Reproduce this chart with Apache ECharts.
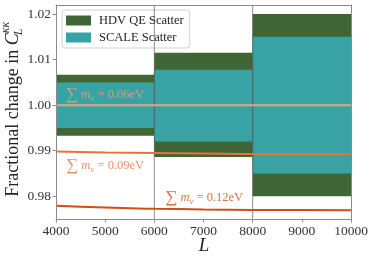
<!DOCTYPE html>
<html>
<head>
<meta charset="utf-8">
<script src="https://cdn.jsdelivr.net/npm/echarts@6/dist/echarts.min.js"></script>
<style>html,body{margin:0;padding:0;background:#fff}#c{width:374px;height:263px}</style>
</head>
<body>
<div id="c"></div>
<script>
// ---- data ----
const binStart = [4000, 6000, 8000];
const binEnd = [6000, 8000, 10000];
const hdvLow = [0.9933, 0.9886, 0.9800];
const hdvHigh = [1.0067, 1.0115, 1.0200];
const scaleLow = [0.9950, 0.9920, 0.9850];
const scaleHigh = [1.0050, 1.0078, 1.0150];
const lineL = [4000, 5000, 6000, 7000, 8000, 9000, 10000];
const mnu006 = [1.0000, 1.0000, 1.0000, 1.0000, 1.0000, 1.0000, 1.0000];
const mnu009 = [0.9898, 0.9896, 0.9895, 0.9894, 0.9893, 0.9893, 0.9893];
const mnu012 = [0.9779, 0.9775, 0.97727, 0.9771, 0.9770, 0.97695, 0.97692];
const binEdges = [6000, 8000];
const xTicks = [4000, 5000, 6000, 7000, 8000, 9000, 10000];
const yTicks = [0.98, 0.99, 1.00, 1.01, 1.02];
const legendNames = ['HDV QE Scatter', 'SCALE Scatter'];
const lineLabels = ['0.06eV', '0.09eV', '0.12eV'];

const FONT = 'Liberation Serif';
const cGreen = '#3f6634';
const cTeal = '#38a3a4';
const c06 = '#f2a07b', c09 = '#e8733a', c12 = '#d24e10';

const chart = echarts.init(document.getElementById('c'), null, {renderer: 'canvas'});

function rectSeries(name, lo, hi, color, z) {
  return {
    type: 'custom', name: name, z: z,
    itemStyle: {color: color},
    encode: {x: [0, 1], y: [2, 3]},
    data: binStart.map((s, i) => [s, binEnd[i], lo[i], hi[i]]),
    renderItem: function (params, api) {
      const p0 = api.coord([api.value(0), api.value(3)]);
      const p1 = api.coord([api.value(1), api.value(2)]);
      return {type: 'rect', shape: {x: p0[0], y: p0[1], width: p1[0] - p0[0], height: p1[1] - p0[1]},
        style: {fill: color}};
    }
  };
}
function lineSeries(name, ys, color) {
  return {type: 'line', name: name, data: lineL.map((x, i) => [x, ys[i]]), smooth: true,
    showSymbol: false, symbol: 'none', lineStyle: {color: color, width: 2}, z: 5, silent: true};
}

const spine = {show: true, lineStyle: {color: '#8a8a8a', width: 1}};
const tickSt = {show: true, length: 3.5, inside: false, lineStyle: {color: '#8a8a8a'}};

chart.setOption({
  animation: false,
  grid: {left: 56, right: 23, top: 5, bottom: 44},
  legend: {
    data: legendNames, orient: 'vertical', left: 62, top: 10,
    icon: 'rect', itemWidth: 25, itemHeight: 10, itemGap: 4,
    padding: [4, 6, 4, 4], backgroundColor: 'rgba(255,255,255,0.85)',
    borderColor: '#d0d0d0', borderWidth: 1, borderRadius: 3,
    textStyle: {fontFamily: FONT, fontSize: 12.5, color: '#222', padding: [0, 0, 0, 3]},
    selectedMode: false
  },
  xAxis: [{
    type: 'value', min: 4000, max: 10000, interval: 1000, z: 10,
    axisLine: spine, axisTick: tickSt, splitLine: {show: false},
    axisLabel: {fontFamily: FONT, fontSize: 13.5, color: '#333', margin: 5, formatter: v => String(v)}
  }, {
    type: 'value', position: 'top', min: 4000, max: 10000, z: 10,
    axisLine: spine, axisTick: {show: false}, axisLabel: {show: false}, splitLine: {show: false}
  }],
  yAxis: [{
    type: 'value', min: 0.975, max: 1.022, z: 10,
    axisLine: spine,
    axisTick: Object.assign({customValues: yTicks}, tickSt),
    splitLine: {show: false},
    axisLabel: {customValues: yTicks, fontFamily: FONT, fontSize: 13.5, color: '#333', margin: 5,
      formatter: v => v.toFixed(2)}
  }, {
    type: 'value', position: 'right', min: 0.975, max: 1.022, z: 10,
    axisLine: spine, axisTick: {show: false}, axisLabel: {show: false}, splitLine: {show: false}
  }],
  series: [
    rectSeries(legendNames[0], hdvLow, hdvHigh, cGreen, 2),
    rectSeries(legendNames[1], scaleLow, scaleHigh, cTeal, 3),
    {
      type: 'custom', name: 'edges', z: 4, silent: true,
      encode: {x: 0},
      data: binEdges.map(e => [e]),
      renderItem: function (params, api) {
        const a = api.coord([api.value(0), 0.975]);
        const b = api.coord([api.value(0), 1.022]);
        return {type: 'line', shape: {x1: a[0], y1: a[1], x2: b[0], y2: b[1]},
          style: {stroke: 'rgba(70,70,70,0.6)', lineWidth: 1}};
      }
    },
    lineSeries('m006', mnu006, c06),
    lineSeries('m009', mnu009, c09),
    lineSeries('m012', mnu012, c12)
  ]
});

// annotations and axis titles
function label(txt, xv, yv, color) {
  const p = chart.convertToPixel({xAxisIndex: 0, yAxisIndex: 0}, [xv, yv]);
  return {
    type: 'text', x: p[0], y: p[1], z: 20,
    style: {
      text: '{s|∑}{i| m}{sub|ν} = ' + txt,
      align: 'center', verticalAlign: 'middle', fill: color, opacity: 0.8,
      rich: {
        s: {fontFamily: FONT, fontSize: 17, fill: color, lineHeight: 16},
        i: {fontFamily: FONT, fontStyle: 'italic', fontSize: 12.5, fill: color, lineHeight: 16},
        sub: {fontFamily: FONT, fontStyle: 'italic', fontSize: 9, fill: color, lineHeight: 11, verticalAlign: 'bottom'}
      },
      fontFamily: FONT, fontSize: 12.5
    }
  };
}

const ctx = document.createElement('canvas').getContext('2d');
ctx.font = '18px "' + FONT + '"';
const w1 = ctx.measureText('Fractional change in ').width;
ctx.font = 'italic 18px "' + FONT + '"';
const wC = ctx.measureText('C').width;
const total = w1 + wC + 10;
const sx = -total / 2;

chart.setOption({
  graphic: [
    label(lineLabels[0], 4998, 1.00226, c06),
    label(lineLabels[1], 4998, 0.98666, c09),
    label(lineLabels[2], 7013, 0.97963, c12),
    {
      type: 'group', x: 13, y: 110, rotation: Math.PI / 2, z: 20,
      children: [
        {type: 'text', x: sx, y: 0, style: {text: 'Fractional change in ', fontFamily: FONT, fontSize: 18,
          fill: '#222', verticalAlign: 'middle', align: 'left'}},
        {type: 'text', x: sx + w1, y: 0, style: {text: 'C', fontFamily: FONT, fontStyle: 'italic', fontSize: 18,
          fill: '#222', verticalAlign: 'middle', align: 'left'}},
        {type: 'text', x: sx + w1 + wC, y: -7, style: {text: 'κκ', fontFamily: FONT, fontStyle: 'italic', fontSize: 12,
          fill: '#222', verticalAlign: 'middle', align: 'left'}},
        {type: 'text', x: sx + w1 + wC - 2, y: 6, style: {text: 'L', fontFamily: FONT, fontStyle: 'italic', fontSize: 12,
          fill: '#222', verticalAlign: 'middle', align: 'left'}}
      ]
    },
    {
      type: 'text', x: 204, y: 246, z: 20,
      style: {text: 'L', fontFamily: FONT, fontStyle: 'italic', fontSize: 19, fill: '#222',
        align: 'center', verticalAlign: 'middle'}
    }
  ]
});
</script>
</body>
</html>
